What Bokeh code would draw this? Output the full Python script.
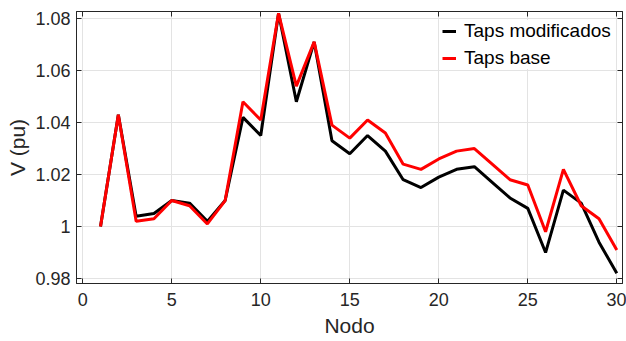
from bokeh.plotting import figure
from bokeh.models import (Range1d, FixedTicker, LinearAxis, Legend, LegendItem,
                          CustomJSTickFormatter, ColumnDataSource)
from bokeh.embed import file_html
from bokeh.resources import INLINE

nodes = list(range(1, 31))
taps_modificados = [1.000, 1.043, 1.004, 1.005, 1.010, 1.009, 1.002, 1.010, 1.042, 1.035,
                    1.082, 1.048, 1.071, 1.033, 1.028, 1.035, 1.029, 1.018, 1.015, 1.019,
                    1.022, 1.023, 1.017, 1.011, 1.007, 0.990, 1.014, 1.009, 0.994, 0.982]
taps_base = [1.000, 1.043, 1.002, 1.003, 1.010, 1.008, 1.001, 1.010, 1.048, 1.041,
             1.082, 1.054, 1.071, 1.039, 1.034, 1.041, 1.036, 1.024, 1.022, 1.026,
             1.029, 1.030, 1.024, 1.018, 1.016, 0.998, 1.022, 1.008, 1.003, 0.991]
x_ticks = [0, 5, 10, 15, 20, 25, 30]
y_ticks = [0.98, 1.00, 1.02, 1.04, 1.06, 1.08]

FONT = "Liberation Sans"
AX = "#262626"

src = ColumnDataSource(dict(x=nodes, mod=taps_modificados, base=taps_base))

p = figure(width=626, height=341, output_backend="svg", toolbar_location=None,
           x_range=Range1d(-0.35, 30.32), y_range=Range1d(0.9781, 1.0827),
           min_border_left=76, min_border_right=4, min_border_top=11, min_border_bottom=58)

p.outline_line_color = AX
p.outline_line_width = 1
p.background_fill_color = "white"
p.border_fill_color = "white"

r1 = p.line("x", "mod", source=src, line_color="black", line_width=3)
r2 = p.line("x", "base", source=src, line_color="#ff0000", line_width=3)

fmt = CustomJSTickFormatter(code="return String(Math.round(tick*100)/100);")
blank = CustomJSTickFormatter(code="return '';")

p.xaxis.ticker = FixedTicker(ticks=x_ticks)
p.yaxis.ticker = FixedTicker(ticks=y_ticks)
p.yaxis.formatter = fmt
p.xaxis.axis_label = "Nodo"
p.yaxis.axis_label = "V (pu)"

for ax in (p.xaxis[0], p.yaxis[0]):
    ax.axis_line_color = AX
    ax.major_tick_in = 5
    ax.major_tick_out = 0
    ax.major_tick_line_color = AX
    ax.minor_tick_line_color = None
    ax.major_label_text_font = FONT
    ax.major_label_text_font_size = "18px"
    ax.major_label_text_color = AX
    ax.axis_label_text_font = FONT
    ax.axis_label_text_font_size = "21px"
    ax.axis_label_text_font_style = "normal"
    ax.axis_label_text_color = AX

p.xaxis[0].major_label_standoff = 9
p.xaxis[0].axis_label_standoff = 5
p.yaxis[0].major_label_standoff = 6
p.yaxis[0].axis_label_standoff = 3

top = LinearAxis(ticker=FixedTicker(ticks=x_ticks), formatter=blank,
                 major_label_standoff=0, major_tick_in=5, major_tick_out=0,
                 minor_tick_line_color=None, axis_line_color=AX, major_tick_line_color=AX)
right = LinearAxis(ticker=FixedTicker(ticks=y_ticks), formatter=blank,
                   major_label_standoff=0, major_tick_in=5, major_tick_out=0,
                   minor_tick_line_color=None, axis_line_color=AX, major_tick_line_color=AX)
p.add_layout(top, "above")
p.add_layout(right, "right")

p.xgrid.grid_line_color = "#e3e3e3"
p.ygrid.grid_line_color = "#e3e3e3"
p.xgrid.ticker = FixedTicker(ticks=x_ticks)
p.ygrid.ticker = FixedTicker(ticks=y_ticks)

legend = Legend(items=[LegendItem(label="Taps modificados", renderers=[r1]),
                       LegendItem(label="Taps base", renderers=[r2])],
                location=(366, 214), margin=0, padding=9, spacing=5,
                glyph_width=14, glyph_height=22, label_height=22, label_standoff=8,
                label_text_font=FONT, label_text_font_size="19px", label_text_color="black",
                border_line_color=None, background_fill_color="white", background_fill_alpha=1.0)
p.add_layout(legend)

open("out.html", "w").write(file_html(p, INLINE))
